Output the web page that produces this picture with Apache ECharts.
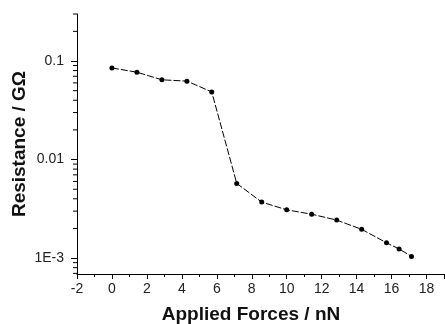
<!DOCTYPE html>
<html><head><meta charset="utf-8">
<script src="https://cdn.jsdelivr.net/npm/echarts@6/dist/echarts.min.js"></script>
<style>html,body{margin:0;padding:0;background:#fff}#c{width:445px;height:324px}</style>
</head><body><div id="c"></div>
<script>
var forces = [0, 1.43, 2.86, 4.29, 5.71, 7.14, 8.57, 10, 11.43, 12.86, 14.29, 15.71, 16.43, 17.14];
var resistance = [0.085, 0.077, 0.0645, 0.0625, 0.0486, 0.00573, 0.0037, 0.00309, 0.00279, 0.00243, 0.00196, 0.00143, 0.00124, 0.00104];
var yTickLabels = {"-1": "0.1", "-2": "0.01", "-3": "1E-3"};
var yMinorTicks = [0.0007, 0.0008, 0.0009, 0.002, 0.003, 0.004, 0.005, 0.006, 0.007, 0.008, 0.009,
  0.02, 0.03, 0.04, 0.05, 0.06, 0.07, 0.08, 0.09, 0.2, 0.3];
var xTitle = "Applied Forces / nN";
var yTitle = "Resistance / G\u03A9";

var chart = echarts.init(document.getElementById('c'), null, {renderer: 'canvas'});
var font = 'Liberation Sans, Arial, sans-serif';
chart.setOption({
  animation: false,
  backgroundColor: '#fff',
  grid: {left: 77, right: 1, top: 14, bottom: 50, containLabel: false},
  xAxis: {
    type: 'value', min: -2, max: 19, interval: 2,
    axisLine: {onZero: false, lineStyle: {color: '#000', width: 1}},
    axisTick: {show: true, inside: false, length: 5, lineStyle: {color: '#000'}},
    minorTick: {show: true, splitNumber: 2, length: 3, lineStyle: {color: '#000'}},
    splitLine: {show: false},
    axisLabel: {color: '#222', fontFamily: font, fontSize: 14, margin: 8, showMaxLabel: false}
  },
  yAxis: {
    type: 'log', min: 0.00069, max: 0.3, logBase: 10,
    axisLine: {show: true, onZero: false, lineStyle: {color: '#000', width: 1}},
    axisTick: {show: true, inside: false, length: 6, lineStyle: {color: '#000'}},
    splitLine: {show: false},
    axisLabel: {
      color: '#222', fontFamily: font, fontSize: 14, margin: 13,
      showMinLabel: false, showMaxLabel: false,
      formatter: function (v) {
        var e = Math.round(Math.log10(v));
        if (Math.abs(Math.log10(v) - e) < 1e-6 && yTickLabels[String(e)]) return yTickLabels[String(e)];
        return '';
      }
    }
  },
  graphic: [
    {type: 'text', x: 251, y: 315,
      style: {text: xTitle, font: 'bold 19px ' + font, fill: '#111', textAlign: 'center', textVerticalAlign: 'middle'}},
    {type: 'text', rotation: Math.PI / 2, x: 20, y: 144,
      style: {text: yTitle, font: 'bold 19px ' + font, fill: '#111', textAlign: 'center', textVerticalAlign: 'middle'}}
  ],
  series: [
    {
      type: 'line', data: forces.map(function (f, i) { return [f, resistance[i]]; }),
      symbol: 'circle', symbolSize: 5,
      itemStyle: {color: '#000'},
      lineStyle: {color: '#000', width: 1, type: [7, 2]}
    },
    {
      type: 'custom', silent: true, clip: false,
      data: yMinorTicks.map(function (v) { return [-2, v]; }),
      renderItem: function (params, api) {
        var p = api.coord([api.value(0), api.value(1)]);
        return {type: 'line', shape: {x1: p[0] - 4, y1: p[1], x2: p[0], y2: p[1]},
          style: {stroke: '#000', lineWidth: 1}};
      }
    }
  ]
});
</script></body></html>
